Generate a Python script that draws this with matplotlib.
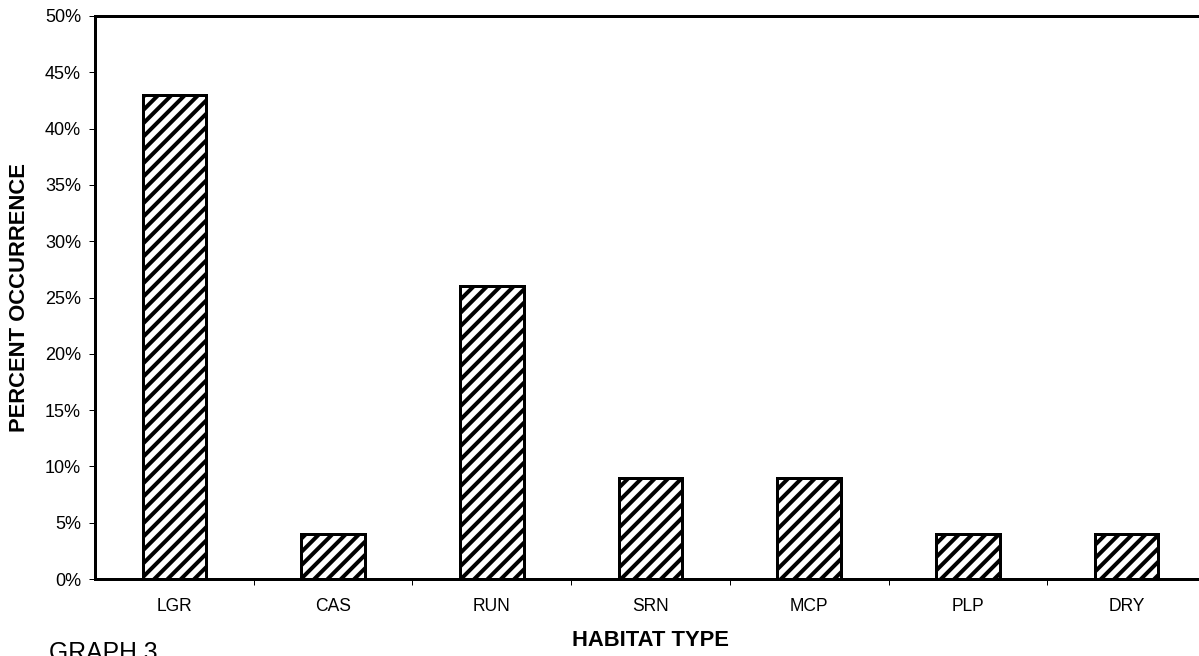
import matplotlib.pyplot as plt
from matplotlib.ticker import PercentFormatter

# Data
habitats = ['LGR', 'CAS', 'RUN', 'SRN', 'MCP', 'PLP', 'DRY']
occurrence = [43, 4, 26, 9, 9, 4, 4]
y_ticks = [0, 5, 10, 15, 20, 25, 30, 35, 40, 45, 50]

DPI = 80
def px(v):
    # pixels -> points at this dpi
    return v * 72 / DPI

plt.rcParams['font.family'] = ['Liberation Sans', 'DejaVu Sans']
plt.rcParams['hatch.linewidth'] = px(4)
plt.rcParams['hatch.color'] = 'black'

fig = plt.figure(figsize=(1199 / DPI, 656 / DPI), dpi=DPI)
ax = fig.add_axes([95 / 1199, (656 - 579) / 656, (1206 - 95) / 1199, (579 - 16) / 656])

x = range(len(habitats))
ax.bar(x, occurrence, width=0.4, color='white', edgecolor='black',
       linewidth=px(3), hatch='//')

ax.set_xlim(-0.5, len(habitats) - 0.5)
ax.set_ylim(0, 50)
ax.set_yticks(y_ticks)
ax.yaxis.set_major_formatter(PercentFormatter(decimals=0))

# category labels centred, tick marks between categories
ax.set_xticks([i + 0.5 for i in range(len(habitats) - 1)])
ax.set_xticklabels([])
ax.set_xticks(list(x), minor=True)
ax.set_xticklabels(habitats, minor=True)
ax.tick_params(axis='x', which='minor', length=0, pad=px(19), labelsize=px(17.5))
ax.tick_params(axis='x', which='major', length=px(6), width=px(1), direction='out')
ax.tick_params(axis='y', length=px(6), width=px(1), pad=px(8), labelsize=px(18))

for s in ax.spines.values():
    s.set_linewidth(px(3))

ax.set_ylabel('PERCENT OCCURRENCE', fontweight='bold', fontsize=px(22))
ax.yaxis.set_label_coords(-75 / 1111, 0.5)
ax.set_xlabel('HABITAT TYPE', fontweight='bold', fontsize=px(22))
ax.xaxis.set_label_coords((650 - 95) / 1111, -(640 - 579) / 563)
ax.xaxis.label.set_va('center')
ax.yaxis.label.set_va('center')

fig.text(49 / 1199, 1 - 641 / 656, 'GRAPH 3', fontsize=px(24.8), va='top', ha='left')

fig.savefig('out.png', dpi=DPI)
